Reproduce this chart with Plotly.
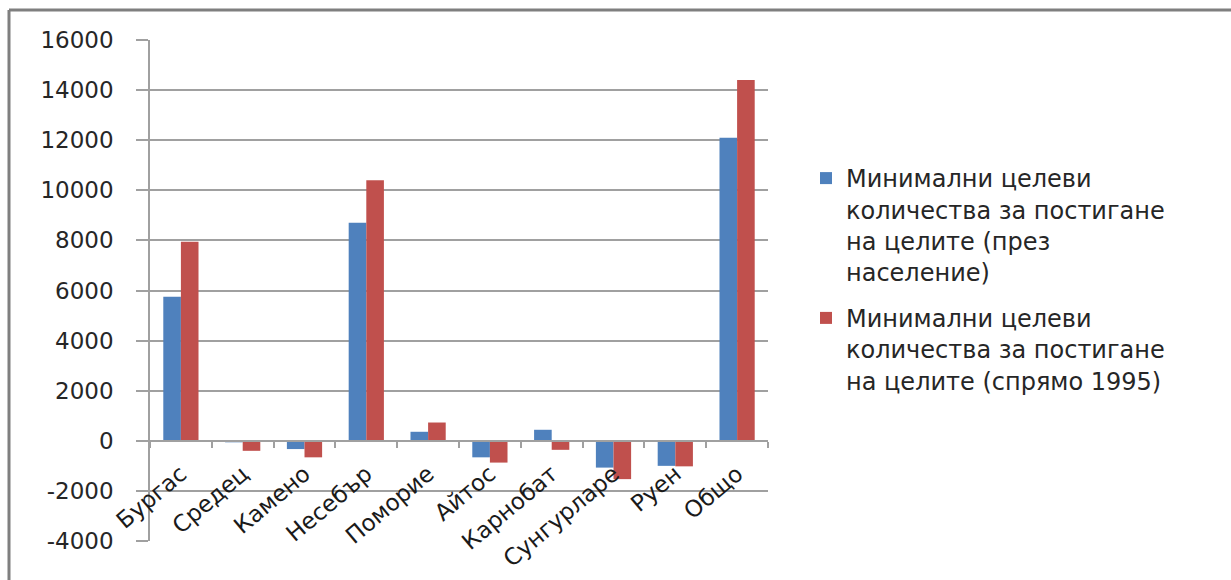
import plotly.graph_objects as go

# Municipalities (last one is the total)
municipalities = ["Бургас", "Средец", "Камено", "Несебър", "Поморие",
                  "Айтос", "Карнобат", "Сунгурларе", "Руен", "Общо"]

# Minimum target quantities, by population
by_population = [5750, -60, -330, 8700, 360, -660, 440, -1070, -1000, 12100]
# Minimum target quantities, relative to 1995
vs_1995 = [7950, -400, -660, 10400, 730, -870, -360, -1530, -1020, 14400]

series_names = [
    "Минимални целеви<br>количества за постигане<br>на целите (през<br>население)",
    "Минимални целеви<br>количества за постигане<br>на целите (спрямо 1995)",
]
series_colors = ["#4F81BD", "#C0504D"]

y_ticks = list(range(-4000, 16001, 2000))
y_tick_text = [str(v) for v in y_ticks]
y_min, y_max = y_ticks[0], y_ticks[-1]

W, H = 1231, 580
M_L, M_R, M_T, M_B = 150, 463, 40, 39
plot_w = W - M_L - M_R
plot_h = H - M_T - M_B


def px_to_paper_x(px):
    return (px - M_L) / plot_w


def px_to_paper_y(py):
    return (H - M_B - py) / plot_h


fig = go.Figure()
for i, (name, vals, col) in enumerate(zip(series_names, [by_population, vs_1995], series_colors)):
    fig.add_trace(go.Bar(x=municipalities, y=vals, name=name,
                         legendgroup=f"g{i}",
                         marker=dict(color=col, line=dict(width=0))))

grid_col = "#a0a0a0"
font_family = "DejaVu Sans"

# the category axis crosses the value axis at zero
zero_pos = (0 - y_min) / (y_max - y_min)

fig.update_layout(
    width=W, height=H,
    margin=dict(l=M_L, r=M_R, t=M_T, b=M_B, autoexpand=False),
    paper_bgcolor="white", plot_bgcolor="white",
    barmode="group", bargap=0.43, bargroupgap=0,
    font=dict(family=font_family, color="#262626"),
    showlegend=True,
    legend=dict(
        x=px_to_paper_x(806), y=px_to_paper_y(156),
        xanchor="left", yanchor="top", valign="top",
        font=dict(size=24, family=font_family, color="#262626"),
        bgcolor="rgba(0,0,0,0)", tracegroupgap=12,
        traceorder="grouped",
    ),
    xaxis=dict(
        anchor="free", position=zero_pos, automargin=False,
        showline=True, linecolor=grid_col, linewidth=1.5,
        ticks="outside", tickson="boundaries", ticklen=6,
        tickcolor=grid_col, tickwidth=1.5,
        tickangle=-40, tickfont=dict(size=23, color="#1a1a1a"),
        ticklabelstandoff=10,
        showgrid=False,
    ),
    yaxis=dict(
        range=[y_min, y_max], tickvals=y_ticks, ticktext=y_tick_text,
        automargin=False,
        showgrid=True, gridcolor=grid_col, gridwidth=1.5,
        zeroline=False,
        showline=True, linecolor=grid_col, linewidth=1.5,
        ticks="outside", ticklen=12, tickcolor=grid_col, tickwidth=1.5,
        tickfont=dict(size=23, color="#262626"),
        ticklabelstandoff=18,
    ),
)

# frame edges along the top and left of the chart
frame_x = px_to_paper_x(9)
frame_y = px_to_paper_y(10)
fig.add_shape(type="line", xref="paper", yref="paper",
              x0=frame_x, x1=px_to_paper_x(W + 5), y0=frame_y, y1=frame_y,
              line=dict(color="#7f7f7f", width=3))
fig.add_shape(type="line", xref="paper", yref="paper",
              x0=frame_x, x1=frame_x, y0=frame_y, y1=px_to_paper_y(H + 5),
              line=dict(color="#7f7f7f", width=3))

fig.write_html("out.html")
